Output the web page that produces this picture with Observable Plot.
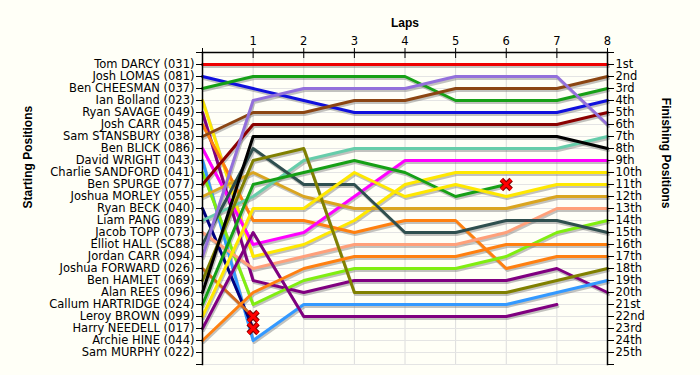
<!DOCTYPE html>
<html><head><meta charset="utf-8">
<script src="https://cdn.jsdelivr.net/npm/d3@7"></script>
<script src="https://cdn.jsdelivr.net/npm/@observablehq/plot@0.6"></script>
<style>
html,body{margin:0;padding:0;background:#fffff7;}
#chart svg{display:block;}
</style></head><body><div id="chart"></div>
<script>
const starters = [
  "Tom DARCY (031)", "Josh LOMAS (081)", "Ben CHEESMAN (037)", "Ian Bolland (023)",
  "Ryan SAVAGE (049)", "Josh CARR (045)", "Sam STANSBURY (038)", "Ben BLICK (086)",
  "David WRIGHT (043)", "Charlie SANDFORD (041)", "Ben SPURGE (077)", "Joshua MORLEY (055)",
  "Ryan BECK (040)", "Liam PANG (089)", "Jacob TOPP (073)", "Elliot HALL (SC88)",
  "Jordan CARR (094)", "Joshua FORWARD (026)", "Ben HAMLET (069)", "Alan REES (096)",
  "Callum HARTRIDGE (024)", "Leroy BROWN (099)", "Harry NEEDELL (017)", "Archie HINE (044)",
  "Sam MURPHY (022)"
];
const finishLabels = [
  "1st","2nd","3rd","4th","5th","6th","7th","8th","9th","10th","11th","12th","13th",
  "14th","15th","16th","17th","18th","19th","20th","21st","22nd","23rd","24th","25th"
];
const lapTicks = [1, 2, 3, 4, 5, 6, 7, 8];
const riderColors = [
  "#ee0000", "#1010dd", "#16a016", "#ffe800",
  "#800080", "#ff8010", "#8b4513", "#ff00ff",
  "#3399ff", "#80ee10", "#8b0000", "#daa520",
  "#000080", "#66cdaa", "#ffa07a", "#2f4f4f",
  "#9370db", "#d2691e", "#808000", "#000000",
  "#16a016", "#ffe800", "#800080", "#ff8010",
  "#000000"
];
// position at lap 0, 1, 2, ... (a shorter list = retired)
const riderPositions = [
  [1, 1, 1, 1, 1, 1, 1, 1, 1],
  [2, 3, 4, 5, 5, 5, 5, 5, 4],
  [3, 2, 2, 2, 2, 4, 4, 4, 3],
  [4, 17, 16, 14, 11, 10, 10, 10, 10],
  [5, 19, 20, 19, 19, 19, 19, 18, 20],
  [6, 14, 14, 15, 14, 14, 18, 17, 17],
  [7, 5, 5, 4, 4, 3, 3, 3, 2],
  [8, 16, 15, 12, 9, 9, 9, 9, 9],
  [9, 24, 21, 21, 21, 21, 21, 20, 19],
  [10, 21, 19, 18, 18, 18, 17, 15, 14],
  [11, 6, 6, 6, 6, 6, 6, 6, 5],
  [12, 10, 12, 13, 13, 13, 13, 12, 12],
  [13, 23],
  [14, 12, 9, 8, 8, 8, 8, 8, 7],
  [15, 18, 17, 16, 16, 16, 15, 13, 13],
  [16, 8, 11, 11, 15, 15, 14, 14, 15],
  [17, 4, 3, 3, 3, 2, 2, 2, 6],
  [18, 22],
  [19, 9, 8, 20, 20, 20, 20, 19, 18],
  [20, 7, 7, 7, 7, 7, 7, 7, 8],
  [21, 11, 10, 9, 10, 12, 11],
  [22, 13, 13, 10, 12, 11, 12, 11, 11],
  [23, 15, 22, 22, 22, 22, 22, 21],
  [24, 20, 18, 17, 17, 17, 16, 16, 16],
  []
];
const crashed = ["Ryan BECK (040)", "Joshua FORWARD (026)", "Callum HARTRIDGE (024)"];

const rows = [];
riderPositions.forEach((ps, i) => ps.forEach((p, lap) => rows.push({rider: starters[i], lap, pos: p, color: riderColors[i]})));
const crosses = crashed.map(name => {
  const ps = riderPositions[starters.indexOf(name)];
  return {lap: ps.length - 1, pos: ps[ps.length - 1]};
});
const posTicks = d3.range(0, 27);
const font = "'DejaVu Sans', Verdana, sans-serif";
const titleFont = "'Liberation Sans', Arial, sans-serif";

const chart = Plot.plot({
  width: 700, height: 375,
  marginLeft: 202, marginRight: 93, marginTop: 52, marginBottom: 11,
  style: {background: "#fffff7", fontFamily: font, fontSize: "11.5px", color: "#000", overflow: "visible"},
  x: {domain: [0, 8]},
  y: {domain: [0, 26], reverse: true},
  color: {type: "identity"},
  marks: [
    Plot.gridX(lapTicks, {stroke: "#dcdcdc", strokeOpacity: 1}),
    Plot.gridY(d3.range(1, 27), {stroke: "#e4e4e4", strokeOpacity: 1}),
    Plot.line(rows, {x: "lap", y: "pos", z: "rider", stroke: "#777", strokeOpacity: 0.45, strokeWidth: 3, dx: 1, dy: 2}),
    Plot.line(rows, {x: "lap", y: "pos", z: "rider", stroke: "color", strokeWidth: 3}),
    Plot.dot(crosses, {x: "lap", y: "pos", symbol: "times", r: 4.5, stroke: "#7a0000", strokeWidth: 5}),
    Plot.dot(crosses, {x: "lap", y: "pos", symbol: "times", r: 4.5, stroke: "#ff0000", strokeWidth: 3}),
    Plot.frame({anchor: "top", stroke: "#000", strokeWidth: 1.5}),
    Plot.frame({anchor: "left", stroke: "#000", strokeWidth: 1.5}),
    Plot.frame({anchor: "right", stroke: "#000", strokeWidth: 1.5}),
    Plot.axisX([0, ...lapTicks], {anchor: "top", tickSize: 5, tickPadding: 3, label: null, tickFormat: d => d === 0 ? "" : d, fontSize: 11.5, stroke: "#000"}),
    Plot.axisX([0, ...lapTicks], {anchor: "top", tickSize: -5, label: null, tickFormat: () => "", stroke: "#000"}),
    Plot.axisY(posTicks, {anchor: "left", tickSize: 6, tickPadding: 2, label: null, tickFormat: p => starters[p - 1] ?? "", stroke: "#000", style: {letterSpacing: "0.7px"}}),
    Plot.axisY(posTicks, {anchor: "right", tickSize: 6, tickPadding: 2, label: null, tickFormat: p => finishLabels[p - 1] ?? "", stroke: "#000", style: {letterSpacing: "0.3px"}}),
    Plot.text(["Laps"], {frameAnchor: "top", dy: -34, text: d => d, fontWeight: "bold", fontSize: 12, fontFamily: titleFont}),
    Plot.text(["Starting Positions"], {frameAnchor: "left", dx: -174, rotate: -90, text: d => d, fontWeight: "bold", fontSize: 12, fontFamily: titleFont}),
    Plot.text(["Finishing Positions"], {frameAnchor: "right", dx: 58, rotate: 90, text: d => d, fontWeight: "bold", fontSize: 12, fontFamily: titleFont})
  ]
});
document.getElementById("chart").appendChild(chart);
</script>
</body></html>
